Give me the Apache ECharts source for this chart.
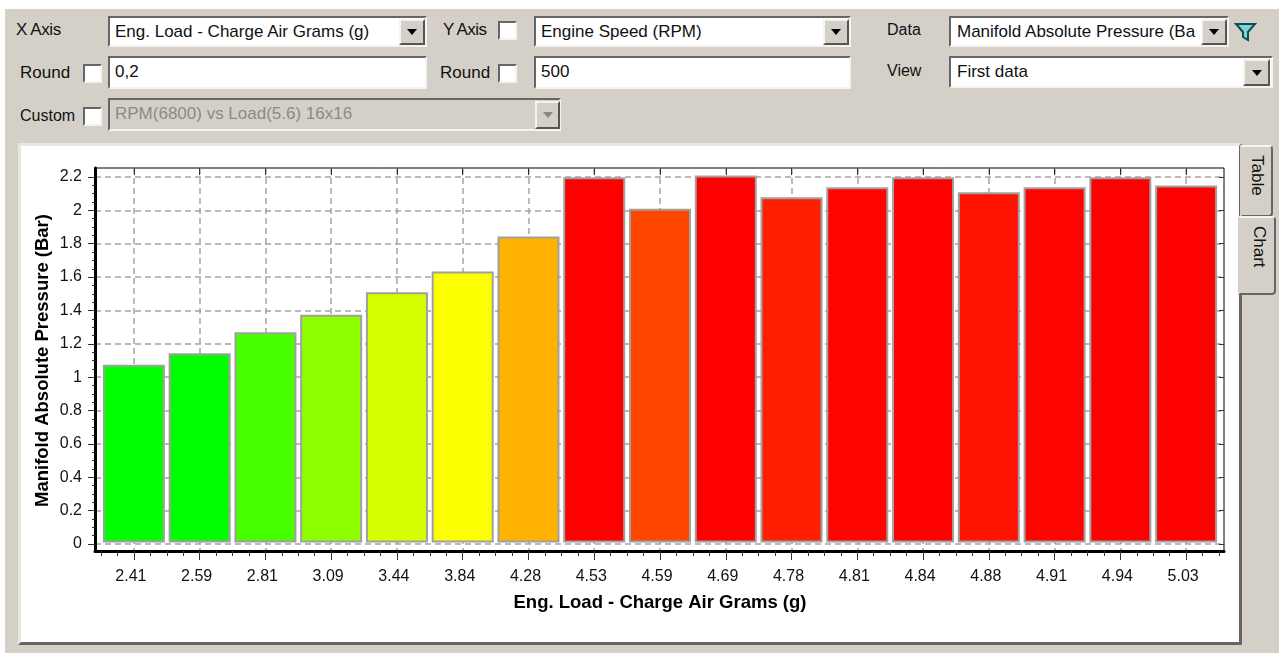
<!DOCTYPE html>
<html><head><meta charset="utf-8">
<style>
html,body{margin:0;padding:0;background:#fff;width:1287px;height:653px;overflow:hidden;font-family:"Liberation Sans",Arial,sans-serif}
#bg{position:absolute;left:5px;top:9px;width:1274px;height:644px;background:#d4d0c8}
#panel{position:absolute;left:18px;top:143px;width:1218px;height:496px;background:#fff;border:3px solid;border-color:#e8e6e1 #666 #666 #e8e6e1;box-shadow:inset 0 0 0 1px #fff}
#chart{position:absolute;left:0;top:0;width:1287px;height:653px}
.t{position:absolute;font-size:17px;color:#111;white-space:nowrap;line-height:18px;margin-top:1px}
.box{position:absolute;box-sizing:border-box;background:#fff;border:2px solid;border-color:#666 #f4f3f0 #f4f3f0 #666;overflow:hidden;font-size:17px;line-height:27px;padding-left:5px;color:#111;white-space:nowrap}
.btn{position:absolute;box-sizing:border-box;background:#d4d0c8;border:2px solid;border-color:#f4f3f0 #555 #555 #f4f3f0}
.btn:after{content:"";position:absolute;left:50%;top:50%;margin:-3px 0 0 -5px;border:5px solid transparent;border-top:6px solid #000;border-bottom:0}
.btn.off:after{border-top-color:#888}
.chk{position:absolute;box-sizing:border-box;width:19px;height:19px;background:#fff;border:2px solid;border-color:#666 #f4f3f0 #f4f3f0 #666}
.tab{position:absolute;box-sizing:border-box;background:#d4d0c8;border:2px solid;border-color:#f4f3f0 #666 #666 #d4d0c8;border-radius:0 4px 4px 0}
.vt{position:absolute;font-size:17px;color:#111;transform:rotate(90deg);transform-origin:left top;white-space:nowrap}
</style></head><body>
<div id="bg"></div>
<div id="panel"></div>
<div class="tab" style="left:1240px;top:145px;width:33px;height:72px"></div>
<div class="tab" style="left:1238px;top:216px;width:38px;height:79px"></div>
<div class="vt" style="left:1267px;top:155px">Table</div>
<div class="vt" style="left:1269px;top:226px">Chart</div>

<div class="t" style="left:16px;top:20px;letter-spacing:-.4px">X Axis</div>
<div class="box" style="left:108px;top:16px;width:319px;height:31px">Eng. Load - Charge Air Grams (g)</div>
<div class="btn" style="left:399px;top:19px;width:26px;height:26px"></div>
<div class="t" style="left:443px;top:20px;letter-spacing:-.6px">Y Axis</div>
<div class="chk" style="left:498px;top:21px"></div>
<div class="box" style="left:534px;top:16px;width:317px;height:31px">Engine Speed (RPM)</div>
<div class="btn" style="left:823px;top:19px;width:26px;height:26px"></div>
<div class="t" style="left:887px;top:20px;font-size:16px">Data</div>
<div class="box" style="left:949px;top:16px;width:280px;height:31px;padding-left:6px">Manifold Absolute Pressure (Ba</div>
<div class="btn" style="left:1201px;top:19px;width:26px;height:26px"></div>
<svg style="position:absolute;left:1234px;top:22px" width="23" height="20"><path d="M2 2H21L14 10V18L9 15V10Z" fill="#7fd6d0" stroke="#0a4f55" stroke-width="2"/></svg>

<div class="t" style="left:20px;top:63px">Round</div>
<div class="chk" style="left:83px;top:64px"></div>
<div class="box" style="left:108px;top:56px;width:319px;height:33px">0,2</div>
<div class="t" style="left:440px;top:63px">Round</div>
<div class="chk" style="left:498px;top:64px"></div>
<div class="box" style="left:534px;top:56px;width:317px;height:33px">500</div>
<div class="t" style="left:887px;top:61px;font-size:16px">View</div>
<div class="box" style="left:949px;top:56px;width:324px;height:32px;padding-left:6px">First data</div>
<div class="btn" style="left:1243px;top:59px;width:27px;height:27px"></div>

<div class="t" style="left:20px;top:106px;font-size:16px">Custom</div>
<div class="chk" style="left:83px;top:107px"></div>
<div class="box" style="left:108px;top:98px;width:453px;height:33px;background:#d4d0c8;color:#8a8a8a">RPM(6800) vs Load(5.6) 16x16</div>
<div class="btn off" style="left:535px;top:101px;width:25px;height:28px"></div>

<div id="chart"></div>
<script src="https://cdn.jsdelivr.net/npm/echarts@6/dist/echarts.min.js"></script>
<script>
const categories = ['2.41','2.59','2.81','3.09','3.44','3.84','4.28','4.53','4.59','4.69','4.78','4.81','4.84','4.88','4.91','4.94','5.03'];
const pressureBar = [1.065,1.135,1.26,1.365,1.50,1.625,1.835,2.19,2.00,2.20,2.07,2.13,2.19,2.10,2.13,2.19,2.14];
const yTickStep = 0.2;
const yMax = 2.2;
const xName = 'Eng. Load - Charge Air Grams (g)';
const yName = 'Manifold Absolute Pressure (Bar)';

const FONT = '"Liberation Sans", Arial, sans-serif';
const dash = {color:'#a4a4a4', width:1.5, type:[6,4]};
const tickLine = {color:'#333', width:1};
const off = {axisLine:{show:false},axisTick:{show:false},axisLabel:{show:false},splitLine:{show:false}};
const chart = echarts.init(document.getElementById('chart'), null, {renderer:'canvas'});
chart.setOption({
  animation:false,
  backgroundColor:'transparent',
  visualMap:{show:false, seriesIndex:0, dimension:1, min:1.14, max:2.14,
    inRange:{color:['#00ff00','#3aff00','#80ff00','#b8ff00','#ecff00','#ffff00','#ffd800','#ffb000','#ff7000','#ff2c00','#ff0000']}},
  grid:[
    {left:95,top:168,width:1129,height:383,show:true,borderColor:'#000',borderWidth:1,backgroundColor:'transparent'},
    {left:101,top:168,width:1118,height:383},
    {left:95,top:177,width:1129,height:367},
    {left:101,top:175.5,width:1118,height:367}
  ],
  xAxis:[
    {gridIndex:3,type:'category',data:categories,show:false,boundaryGap:true},
    {gridIndex:1,type:'category',data:categories,position:'bottom',
      axisLine:{show:false},
      axisTick:{show:true,alignWithLabel:true,length:9,lineStyle:tickLine},
      axisLabel:{show:true,interval:0,margin:18,fontSize:16,color:'#111',fontFamily:FONT,padding:[0,6,0,0]},
      splitLine:{show:true,interval:0,alignWithLabel:true,lineStyle:dash},
      name:xName,nameLocation:'middle',nameGap:42,
      nameTextStyle:{fontSize:18.5,fontWeight:'bold',color:'#000',fontFamily:FONT}},
    {gridIndex:1,type:'value',min:0,max:17,interval:0.25,position:'bottom',
      axisLine:{show:false},axisTick:{show:true,length:5,lineStyle:tickLine},axisLabel:{show:false},splitLine:{show:false}},
    {gridIndex:1,type:'category',data:categories,position:'top',
      axisLine:{show:false},axisTick:{show:true,inside:true,alignWithLabel:true,length:7,lineStyle:tickLine},axisLabel:{show:false},splitLine:{show:false}},
    {gridIndex:0,type:'value',min:0,max:1,position:'bottom',...off,axisLine:{show:true,onZero:false,lineStyle:{color:'#000',width:3}}},
    {gridIndex:2,type:'value',min:0,max:1,...off}
  ],
  yAxis:[
    {gridIndex:3,type:'value',min:0,max:yMax,interval:yTickStep,show:false},
    {gridIndex:2,type:'value',min:0,max:yMax,interval:yTickStep,position:'left',
      axisLine:{show:false},
      axisTick:{show:true,length:7,lineStyle:tickLine},
      minorTick:{show:true,splitNumber:4,length:3,lineStyle:tickLine},
      axisLabel:{show:true,margin:13,fontSize:16,color:'#111',fontFamily:FONT,formatter:v=>String(+v.toFixed(1))},
      splitLine:{show:true,lineStyle:dash},
      name:yName,nameLocation:'middle',nameGap:43,nameMoveOverlap:false,
      nameTextStyle:{fontSize:18.5,fontWeight:'bold',color:'#000',fontFamily:FONT}},
    {gridIndex:2,type:'value',min:0,max:yMax,interval:yTickStep,position:'right',
      axisLine:{show:false},axisTick:{show:true,inside:true,length:5,lineStyle:tickLine},axisLabel:{show:false},splitLine:{show:false}},
    {gridIndex:0,type:'value',min:0,max:1,position:'left',...off,axisLine:{show:true,onZero:false,lineStyle:{color:'#000',width:3}}},
    {gridIndex:1,type:'value',min:0,max:1,...off}
  ],
  series:[{
    type:'bar',xAxisIndex:0,yAxisIndex:0,data:pressureBar,barWidth:62,
    itemStyle:{borderColor:'#a0a0a0',borderWidth:2},
    silent:true
  }]
});
</script>
</body></html>
